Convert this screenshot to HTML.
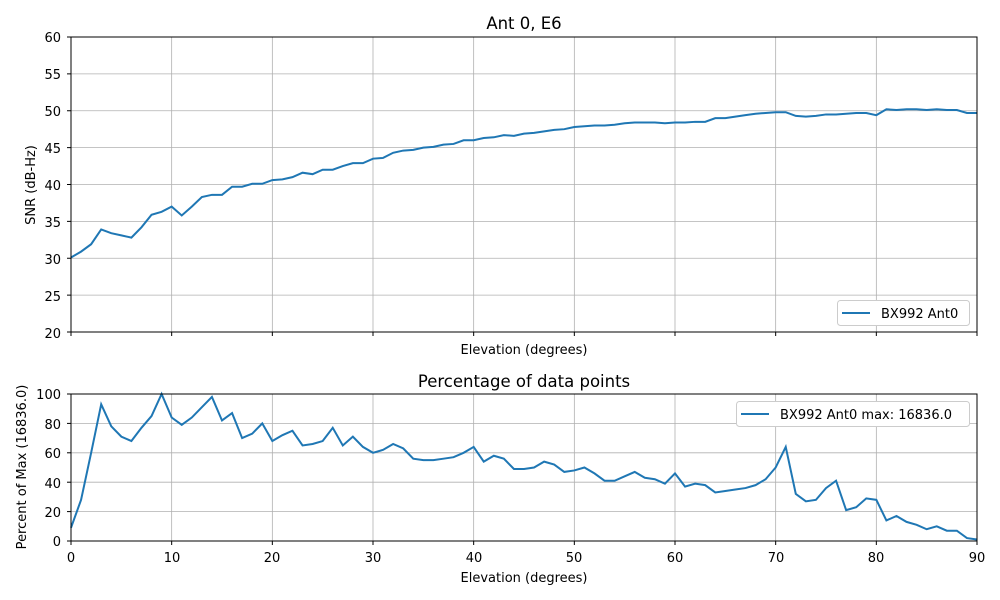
<!DOCTYPE html>
<html><head><meta charset="utf-8"><style>
body{margin:0;background:#fff}
svg{display:block;font-family:"DejaVu Sans","Liberation Sans",sans-serif}
text{fill:#000}
</style></head><body>
<svg id="s" width="1000" height="600" xmlns="http://www.w3.org/2000/svg">
<g id="g"></g>
<text x="524" y="29" font-size="16.5" text-anchor="middle">Ant 0, E6</text>
<text x="524" y="387" font-size="16.5" text-anchor="middle">Percentage of data points</text>
<g font-size="13" text-anchor="end">
<text x="61" y="42">60</text><text x="61" y="79">55</text><text x="61" y="116">50</text><text x="61" y="153">45</text><text x="61" y="190">40</text><text x="61" y="227">35</text><text x="61" y="264">30</text><text x="61" y="301">25</text><text x="61" y="338">20</text>
<text x="61" y="399">100</text><text x="61" y="429">80</text><text x="61" y="458">60</text><text x="61" y="488">40</text><text x="61" y="517">20</text><text x="61" y="546">0</text>
</g>
<g font-size="13" text-anchor="middle">
<text x="71" y="562">0</text><text x="172" y="562">10</text><text x="272" y="562">20</text><text x="373" y="562">30</text><text x="474" y="562">40</text><text x="574" y="562">50</text><text x="675" y="562">60</text><text x="776" y="562">70</text><text x="876" y="562">80</text><text x="977" y="562">90</text>
<text x="524" y="354">Elevation (degrees)</text>
<text x="524" y="582">Elevation (degrees)</text>
<text transform="translate(35,185) rotate(-90)">SNR (dB-Hz)</text>
<text transform="translate(26,467) rotate(-90)">Percent of Max (16836.0)</text>
</g>
<rect x="837.5" y="300.5" width="132" height="25" rx="3" fill="#fff" stroke="#ccc"/>
<line x1="842" y1="313" x2="870" y2="313" stroke="#1f77b4" stroke-width="2"/>
<text x="881" y="318" font-size="13">BX992 Ant0</text>
<rect x="736.5" y="401.5" width="233" height="25" rx="3" fill="#fff" stroke="#ccc"/>
<line x1="741" y1="414" x2="769" y2="414" stroke="#1f77b4" stroke-width="2"/>
<text x="780" y="419" font-size="13">BX992 Ant0 max: 16836.0</text>
</svg>
<script>
var a=[30.1,30.9,31.9,33.9,33.4,33.1,32.8,34.2,35.9,36.3,37.0,35.8,37.0,38.3,38.6,38.6,39.7,39.7,40.1,40.1,40.6,40.7,41.0,41.6,41.4,42.0,42.0,42.5,42.9,42.9,43.5,43.6,44.3,44.6,44.7,45.0,45.1,45.4,45.5,46.0,46.0,46.3,46.4,46.7,46.6,46.9,47.0,47.2,47.4,47.5,47.8,47.9,48.0,48.0,48.1,48.3,48.4,48.4,48.4,48.3,48.4,48.4,48.5,48.5,49.0,49.0,49.2,49.4,49.6,49.7,49.8,49.8,49.3,49.2,49.3,49.5,49.5,49.6,49.7,49.7,49.4,50.2,50.1,50.2,50.2,50.1,50.2,50.1,50.1,49.7,49.7];
var b=[9,28,60,93,78,71,68,77,85,100,84,79,84,91,98,82,87,70,73,80,68,72,75,65,66,68,77,65,71,64,60,62,66,63,56,55,55,56,57,60,64,54,58,56,49,49,50,54,52,47,48,50,46,41,41,44,47,43,42,39,46,37,39,38,33,34,35,36,38,42,50,64,32,27,28,36,41,21,23,29,28,14,17,13,11,8,10,7,7,2,1];
var X=function(d){return 71+d*906/90};
var h='';
for(var i=0;i<=9;i++){var x=X(i*10);h+='<line x1="'+x+'" y1="37" x2="'+x+'" y2="332" stroke="#b0b0b0" stroke-width="0.8"/><line x1="'+x+'" y1="394" x2="'+x+'" y2="541" stroke="#b0b0b0" stroke-width="0.8"/><line x1="'+x+'" y1="332" x2="'+x+'" y2="336" stroke="#000"/><line x1="'+x+'" y1="541" x2="'+x+'" y2="545" stroke="#000"/>';}
for(var i=0;i<=8;i++){var y=37+i*295/8;h+='<line x1="71" y1="'+y+'" x2="977" y2="'+y+'" stroke="#b0b0b0" stroke-width="0.8"/><line x1="67" y1="'+y+'" x2="71" y2="'+y+'" stroke="#000"/>';}
for(var i=0;i<=5;i++){var y=394+i*147/5;h+='<line x1="71" y1="'+y+'" x2="977" y2="'+y+'" stroke="#b0b0b0" stroke-width="0.8"/><line x1="67" y1="'+y+'" x2="71" y2="'+y+'" stroke="#000"/>';}
var p1=a.map(function(v,i){return X(i)+','+(332-(v-20)*295/40)}).join(' ');
var p2=b.map(function(v,i){return X(i)+','+(541-v*147/100)}).join(' ');
h+='<polyline points="'+p1+'" fill="none" stroke="#1f77b4" stroke-width="2"/>';
h+='<polyline points="'+p2+'" fill="none" stroke="#1f77b4" stroke-width="2"/>';
h+='<rect x="71" y="37" width="906" height="295" fill="none" stroke="#000"/><rect x="71" y="394" width="906" height="147" fill="none" stroke="#000"/>';
document.getElementById('g').innerHTML=h;
</script>
</body></html>
